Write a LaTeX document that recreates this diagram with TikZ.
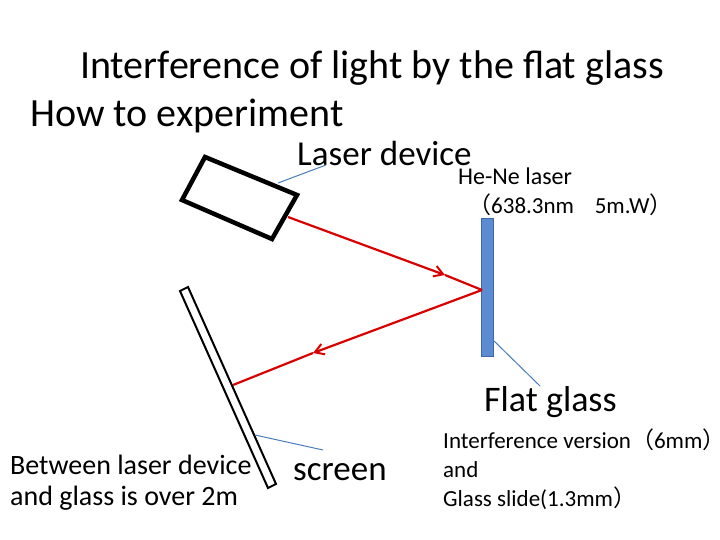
\documentclass[tikz,border=0pt]{standalone}
\usepackage{fontspec}
\setmainfont{Carlito}
\newfontfamily\cjk{Noto Sans CJK SC}
\usetikzlibrary{arrows.meta}
\definecolor{glassfill}{HTML}{5B8BD0}
\definecolor{glassline}{HTML}{3E68A8}
\definecolor{callcol}{HTML}{4A7EBB}
\begin{document}
\begin{tikzpicture}[x=1pt,y=-1pt,
  beam/.style={draw=red!85!black,line width=2.2pt},
  beamarrow/.style={beam,-{Straight Barb[length=9pt,width=11pt,line width=2pt]}},
  callout/.style={draw=callcol,line width=1pt},
  txt/.style={inner sep=0pt,anchor=west}]
\useasboundingbox (0,0) rectangle (720,540);
\fill[white] (0,0) rectangle (720,540);
% texts
\node[txt,font=\fontsize{40}{44}\selectfont] (title) at (80,68) {Interference of light by the flat glass};
\node[txt,font=\fontsize{40}{44}\selectfont] (how) at (30,116) {How to experiment};
\node[txt,font=\fontsize{35}{38}\selectfont] (laserlbl) at (297,153) {Laser device};
\node[txt,font=\fontsize{24}{26}\selectfont] (hene) at (458,176) {He-Ne laser};
\node[txt,font=\fontsize{23}{26}\selectfont] (spec) at (468,205) {{\cjk （}638.3nm\hspace{0.9em}5m.W{\cjk ）}};
\node[txt,font=\fontsize{36}{40}\selectfont] (flatlbl) at (484,402) {Flat glass};
\node[txt,font=\fontsize{28}{31}\selectfont,align=left] (between) at (10,483) {Between laser device\\and glass is over 2m};
\node[txt,font=\fontsize{35}{38}\selectfont] (screenlbl) at (293,472) {screen};
\node[txt,font=\fontsize{23}{29}\selectfont,align=left] (iv) at (443,469) {Interference version{\cjk （}6mm{\cjk ）}\\and\\Glass slide(1.3mm{\cjk ）}};
% laser device
\draw[line width=4.5pt,line join=miter] (205,157) -- (297,195) -- (272,239) -- (182,200) -- cycle;
% glass
\node[draw=glassline,fill=glassfill,line width=0.8pt,minimum width=12pt,minimum height=138pt,inner sep=0pt] (glass) at (487,287) {};
% screen
\draw[line width=2pt,fill=white] (180,291) -- (188,287) -- (276,484) -- (268,488) -- cycle;
% beams
\coordinate (l0) at (288,217);
\coordinate (a1) at (445,275);
\coordinate (g) at (482,290);
\coordinate (a2) at (313,353);
\coordinate (s) at (233,385);
\draw[beamarrow] (l0) -- (a1);
\draw[beam] (a1) -- (g);
\draw[beamarrow] (g) -- (a2);
\draw[beam] (a2) -- (s);
% callouts
\coordinate (c1a) at (278,183); \coordinate (c1b) at (326,165);
\coordinate (c2a) at (493,340); \coordinate (c2b) at (540,386);
\coordinate (c3a) at (255,435); \coordinate (c3b) at (323,450);
\draw[callout] (c1a) -- (c1b);
\draw[callout] (c2a) -- (c2b);
\draw[callout] (c3a) -- (c3b);
\end{tikzpicture}
\end{document}
